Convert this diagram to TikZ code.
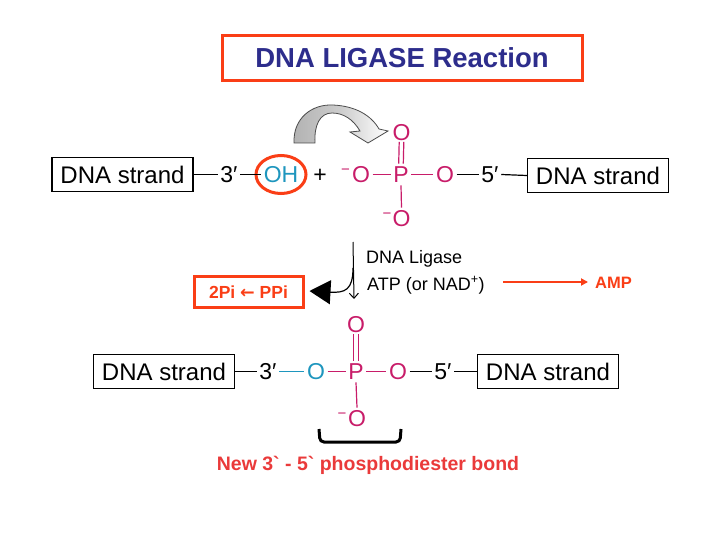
\documentclass[tikz,border=0pt]{standalone}
\usepackage{fontspec}
\setmainfont{Liberation Sans}
\newfontfamily\dejavu{DejaVu Sans}
\usetikzlibrary{arrows.meta}
\definecolor{mag}{RGB}{200,28,105}
\definecolor{cyn}{RGB}{30,150,190}
\definecolor{ored}{RGB}{250,62,22}
\definecolor{nred}{RGB}{234,58,58}
\definecolor{tblue}{RGB}{45,45,140}
\newcommand\fchem{\fontsize{23}{23}\selectfont}
\newcommand\fstrand{\fontsize{24}{24}\selectfont}
\newcommand\fmid{\fontsize{18}{18}\selectfont}
\newcommand\fminus{\fontsize{15}{15}\selectfont}
\newcommand\grv{{\addfontfeatures{Ligatures=TeXOff}`}}
\tikzset{
  chem/.style={inner sep=2.5pt, text height=16.5pt, text depth=0pt, font=\fchem},
  strand/.style={draw, line width=1.2pt, minimum width=141pt, minimum height=34pt, inner sep=0pt, font=\fstrand},
  bond/.style={line width=1.2pt},
  mbond/.style={line width=1.2pt, draw=mag},
  minusnode/.style={inner sep=0pt, font=\fminus, anchor=base},
  redbox/.style={draw=ored, line width=3pt, inner sep=0pt},
}
\begin{document}
\begin{tikzpicture}[x=1pt,y=-1pt]
\useasboundingbox (0,0) rectangle (720,540);
\fill[white] (0,0) rectangle (720,540);

% title
\node[redbox, minimum width=360pt, minimum height=45pt, text=tblue,
  font=\fontsize{27.5}{27.5}\selectfont\bfseries] (title) at (402,58) {DNA LIGASE Reaction};

% ---------- top row ----------
\node[strand] (s1) at (122.5,174.5) {DNA strand};
\node[chem] (t3a) at (229,174.5) {3′};
\node[chem, text=cyn] (oh) at (281,174.5) {OH};
\draw[ored, line width=3pt] (oh.center) ellipse [x radius=25pt, y radius=19pt];
\node[inner sep=0pt, font=\fchem, anchor=base] (plus) at (320,183) {+};
\node[chem, text=mag] (o1) at (361,174.5) {O};
\node[minusnode, text=mag] (m1) at (345.5,174.4) {−};
\node[chem, text=mag] (p1) at (401,174.5) {P};
\node[chem, text=mag] (ot1) at (401.5,132) {O};
\node[chem, text=mag] (ob1) at (401.5,218.5) {O};
\node[minusnode, text=mag] (m2) at (387,218.4) {−};
\node[chem, text=mag] (o2) at (445,174.5) {O};
\node[chem] (t5a) at (490,174.5) {5′};
\node[strand] (s2) at (598,175.5) {DNA strand};

\draw[bond] (s1.east) -- (t3a.west);
\draw[bond] (t3a.east) -- (oh.west);
\draw[mbond] (o1.east) -- (p1.west);
\draw[mbond] (p1.east) -- (o2.west);
\draw[bond] (o2.east) -- (t5a.west);
\draw[bond] (t5a.east) -- (s2.west);
\draw[mbond] ([xshift=-2.3pt]p1.north) -- ([xshift=-2.3pt,yshift=1pt]ot1.south);
\draw[mbond] ([xshift=2.3pt]p1.north) -- ([xshift=2.3pt,yshift=1pt]ot1.south);
\draw[mbond] (p1.south) -- (ob1.north);

% curved grey arrow
\shade[left color=gray!60, right color=white, middle color=gray!40, draw=gray!60!black, line width=0.8pt]
  (294,143) .. controls (293,118) and (312,104) .. (333,105)
  .. controls (355,106) and (371,115) .. (379,129)
  -- (388,131) -- (368,143) -- (350,132) -- (360,131)
  .. controls (353,119) and (343,113) .. (332,113)
  .. controls (320,113) and (314,125) .. (315,143) -- cycle;

% ---------- middle ----------
\coordinate (va) at (353,242);
\coordinate (vb) at (354,299);
\coordinate (br) at (353,268);
\draw[line width=1pt, -{Straight Barb[length=5pt,width=9pt]}] (va) -- (vb);
\node[inner sep=0pt, font=\fmid, anchor=base west] (lig) at (366,263) {DNA Ligase};
\node[inner sep=0pt, font=\fmid, anchor=base west] (atp) at (367,290) {ATP (or NAD\textsuperscript{+})};
\node[redbox, minimum width=109pt, minimum height=31pt, text=ored,
  font=\fontsize{17.5}{17.5}\selectfont\bfseries] (pbox) at (248.5,292)
  {2Pi {\dejavu\bfseries ←} PPi};
\draw[line width=1.2pt, -{Triangle[length=21pt,width=24pt]}]
  (br) .. controls (353,290) and (345,293) .. ([xshift=5pt,yshift=1pt]pbox.east);
\node[inner sep=0pt, text=ored, font=\fontsize{16.5}{16.5}\selectfont\bfseries, anchor=base west] (amp) at (595,288) {AMP};
\coordinate (amps) at (503,282);
\draw[ored, line width=2.5pt, -{Triangle[length=7pt,width=7pt]}] (amps) -- ([xshift=-7pt]amp.west |- amps);

% ---------- bottom row ----------
\node[strand] (s3) at (164,371.5) {DNA strand};
\node[chem] (t3b) at (268,371.5) {3′};
\node[chem, text=cyn] (oc) at (316,371.5) {O};
\node[chem, text=mag] (p2) at (356,371.5) {P};
\node[chem, text=mag] (ot2) at (356,324) {O};
\node[chem, text=mag] (ob2) at (357,418.5) {O};
\node[minusnode, text=mag] (m3) at (342,418.9) {−};
\node[chem, text=mag] (o3) at (398,371.5) {O};
\node[chem] (t5b) at (443,371.5) {5′};
\node[strand] (s4) at (548,371.5) {DNA strand};

\draw[bond] (s3.east) -- (t3b.west);
\draw[bond, draw=cyn] (t3b.east) -- (oc.west);
\draw[mbond] (oc.east) -- (p2.west);
\draw[mbond] (p2.east) -- (o3.west);
\draw[bond] (o3.east) -- (t5b.west);
\draw[bond] (t5b.east) -- (s4.west);
\draw[mbond] ([xshift=-2.3pt]p2.north) -- ([xshift=-2.3pt,yshift=1pt]ot2.south);
\draw[mbond] ([xshift=2.3pt]p2.north) -- ([xshift=2.3pt,yshift=1pt]ot2.south);
\draw[mbond] (p2.south) -- (ob2.north);

% bracket
\draw[line width=3pt, rounded corners=4pt] (319,429) -- (320,442) -- (400,442) -- (401,429);

\node[inner sep=0pt, text=nred, font=\fontsize{19.5}{19.5}\selectfont\bfseries] (newb) at (368,465)
  {New 3\grv{} - 5\grv{} phosphodiester bond};
\end{tikzpicture}
\end{document}
